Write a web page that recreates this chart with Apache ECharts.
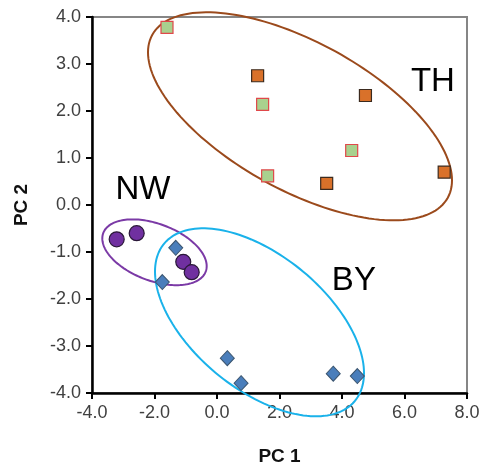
<!DOCTYPE html>
<html><head><meta charset="utf-8">
<script src="https://cdn.jsdelivr.net/npm/echarts@6/dist/echarts.min.js"></script>
<style>html,body{margin:0;padding:0;background:#fff}#c{width:483px;height:465px}</style>
</head><body><div id="c"></div>
<script>
// Data (PC1, PC2)
const thOrange = [[1.30, 2.75], [4.75, 2.33], [3.51, 0.46], [7.27, 0.70]];
const thGreen  = [[-1.60, 3.78], [1.46, 2.14], [4.31, 1.16], [1.62, 0.62]];
const nwPurple = [[-3.21, -0.73], [-2.57, -0.60], [-1.08, -1.21], [-0.81, -1.43]];
const byBlue   = [[-1.32, -0.91], [-1.75, -1.64], [0.33, -3.26], [0.77, -3.79], [3.72, -3.59], [4.49, -3.64]];
const groupLabels = ['TH', 'NW', 'BY'];
const groupLabelPos = [[6.91, 2.61], [-2.37, 0.33], [4.38, -1.61]];
// ellipse outlines: [centerX, centerY, halfWidthX, halfHeightY, tilt]
const ellipseTH = [2.656, 1.887, 4.864, 2.213, -0.615];
const ellipseNW = [-2.0, -1.006, 1.67, 0.70, -0.42];
const ellipseBY = [1.36, -2.496, 3.344, 2.0, -0.54];
const xTickMin = -4, xTickMax = 8, xTickStep = 2;
const yTickMin = -4, yTickMax = 4, yTickStep = 1;

const chart = echarts.init(document.getElementById('c'), null, {renderer: 'canvas'});
const FONT = '"Liberation Sans", Arial, sans-serif';

function ellipseSeries(p, color) {
  return {
    type: 'custom', silent: true, clip: false, z: 1,
    data: [[p[0], p[1]]],
    renderItem: function (params, api) {
      const pts = [];
      const N = 160;
      const s = Math.sqrt(1 - p[4] * p[4]);
      for (let i = 0; i < N; i++) {
        const t = 2 * Math.PI * i / N;
        const x = p[0] + p[2] * Math.cos(t);
        const y = p[1] + p[3] * (p[4] * Math.cos(t) + s * Math.sin(t));
        pts.push(api.coord([x, y]));
      }
      return {
        type: 'polygon',
        shape: {points: pts},
        style: {fill: 'none', stroke: color, lineWidth: 2}
      };
    }
  };
}

chart.setOption({
  animation: false,
  backgroundColor: '#fff',
  grid: {left: 92, right: 16, top: 17, bottom: 72, show: true, borderColor: '#868686', borderWidth: 2,
    containLabel: false, outerBoundsMode: 'none'},
  xAxis: {
    type: 'value', min: xTickMin, max: xTickMax, interval: xTickStep,
    name: 'PC 1', nameLocation: 'middle', nameGap: 54,
    nameTextStyle: {fontFamily: FONT, fontSize: 19, fontWeight: 'bold', color: '#111'},
    axisLine: {show: true, onZero: false, lineStyle: {color: '#000', width: 2.5}},
    axisTick: {show: true, inside: false, length: 6, lineStyle: {color: '#000', width: 2}},
    axisLabel: {fontFamily: FONT, fontSize: 18, color: '#404040', margin: 11, formatter: v => v.toFixed(1)},
    splitLine: {show: false}
  },
  yAxis: {
    type: 'value', min: yTickMin, max: yTickMax, interval: yTickStep,
    name: 'PC 2', nameLocation: 'middle', nameGap: 61, nameRotate: 90,
    nameTextStyle: {fontFamily: FONT, fontSize: 19, fontWeight: 'bold', color: '#111'},
    axisLine: {show: true, onZero: false, lineStyle: {color: '#000', width: 2.5}},
    axisTick: {show: true, inside: false, length: 6, lineStyle: {color: '#000', width: 2}},
    axisLabel: {fontFamily: FONT, fontSize: 18, color: '#404040', margin: 11, formatter: v => v.toFixed(1)},
    splitLine: {show: false}
  },
  series: [
    ellipseSeries(ellipseTH, '#9B4A1C'),
    ellipseSeries(ellipseNW, '#7B3AA6'),
    ellipseSeries(ellipseBY, '#1AB2EA'),
    {type: 'scatter', z: 3, data: thOrange, symbol: 'rect', symbolSize: 12,
      itemStyle: {color: '#D9712A', borderColor: '#3b2a1e', borderWidth: 1.2, opacity: 1}},
    {type: 'scatter', z: 3, data: thGreen, symbol: 'rect', symbolSize: 12,
      itemStyle: {color: '#A9D18E', borderColor: '#E0484A', borderWidth: 1.2, opacity: 1}},
    {type: 'scatter', z: 3, data: nwPurple, symbol: 'circle', symbolSize: 15,
      itemStyle: {color: '#7030A0', borderColor: '#2a1838', borderWidth: 1.2, opacity: 1}},
    {type: 'scatter', z: 3, data: byBlue, symbol: 'diamond', symbolSize: [14, 15],
      itemStyle: {color: '#4A7EBB', borderColor: '#3b556f', borderWidth: 1, opacity: 1}},
    {type: 'scatter', z: 4, silent: true, symbolSize: 0,
      itemStyle: {opacity: 1},
      data: groupLabels.map((n, i) => ({name: n, value: groupLabelPos[i]})),
      label: {show: true, position: 'inside', formatter: p => p.name,
        fontFamily: FONT, fontSize: 33, color: '#000', opacity: 1}}
  ]
});
</script>
</body></html>
